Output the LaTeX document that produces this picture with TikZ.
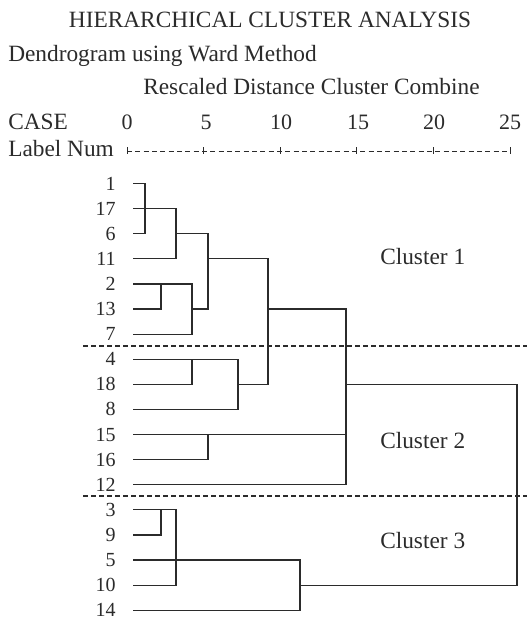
\documentclass[tikz,border=0pt]{standalone}
\usepackage{fontspec}
\setmainfont{Liberation Serif}
\definecolor{ink}{HTML}{2B2B2B}
\begin{document}
\begin{tikzpicture}[x=0.75pt,y=-0.75pt,ink,
	head/.style={inner sep=0pt,anchor=base west,font=\fontsize{17.5}{20}\selectfont},
	scl/.style={inner sep=0pt,anchor=base,font=\fontsize{16.5}{18}\selectfont},
	leaf/.style={inner sep=0pt,anchor=east,font=\fontsize{15}{17}\selectfont},
	tree/.style={line width=0.9pt},
	cut/.style={line width=0.8pt,dash pattern=on 3.75pt off 2.25pt},
	ruler/.style={line width=0.6pt,dash pattern=on 3.75pt off 2.5pt}]
	\useasboundingbox (0,0) rectangle (527,620);
	\node[head,anchor=base] (title) at (270,28) {HIERARCHICAL CLUSTER ANALYSIS};
	\node[head] (method) at (8,62) {Dendrogram using Ward Method};
	\node[head] (rescaled) at (143,95) {Rescaled Distance Cluster Combine};
	\node[head] (case) at (8,130) {CASE};
	\node[head] (labnum) at (8,157) {Label Num};
	\foreach \d/\x in {0/127,5/206,10/281,15/358,20/434,25/510}
		\node[scl] (s\d) at (\x,130) {\d};
	\foreach \d/\x in {0/127,5/203.6,10/280.2,15/356.8,20/433.4,25/510}{
		\coordinate (t\d) at (\x,151);
		\draw[line width=0.6pt] (\x,147.5) -- (\x,154.5);
	}
	\draw[ruler] (t0) -- (t25);
	\foreach \n [count=\i from 0] in {1,17,6,11,2,13,7,4,18,8,15,16,12,3,9,5,10,14}{
		\coordinate (r\n) at (133,{183.5+25.1*\i});
		\node[leaf] (l\n) at (116,{183.5+25.1*\i}) {\n};
	}
	\foreach \k/\x in {1/145,2/161,3/176,4/192,5/208,6/238,7/268,8/346,9/517,10/300}
		\coordinate (c\k) at (\x,0);
	\draw[tree] (r1) -| (c1 |- r6) -- (r6);
	\draw[tree] (r17) -| (c3 |- r11) -- (r11);
	\draw[tree] (c3 |- r6) -| (c5 |- r13) -- (c4 |- r13);
	\draw[tree] (r13) -| (c2 |- r2);
	\draw[tree] (r2) -| (c4 |- r7) -- (r7);
	\draw[tree] (c5 |- r11) -| (c7 |- r18) -- (c6 |- r18);
	\draw[tree] (r18) -| (c4 |- r4);
	\draw[tree] (r4) -| (c6 |- r8) -- (r8);
	\draw[tree] (c7 |- r13) -| (c8 |- r12) -- (r12);
	\draw[tree] (r16) -| (c5 |- r15);
	\draw[tree] (r15) -- (c8 |- r15);
	\draw[tree] (c8 |- r18) -| (c9 |- r10) -- (c10 |- r10);
	\draw[tree] (r9) -| (c2 |- r3);
	\draw[tree] (r3) -| (c3 |- r10) -- (r10);
	\draw[tree] (r5) -| (c10 |- r14) -- (r14);
	\draw[cut] (83,346) -- (527,346);
	\draw[cut] (83,496) -- (527,496);
	\node[head] (cl1) at (380,264) {Cluster 1};
	\node[head] (cl2) at (380,448) {Cluster 2};
	\node[head] (cl3) at (380,548) {Cluster 3};
\end{tikzpicture}
\end{document}
